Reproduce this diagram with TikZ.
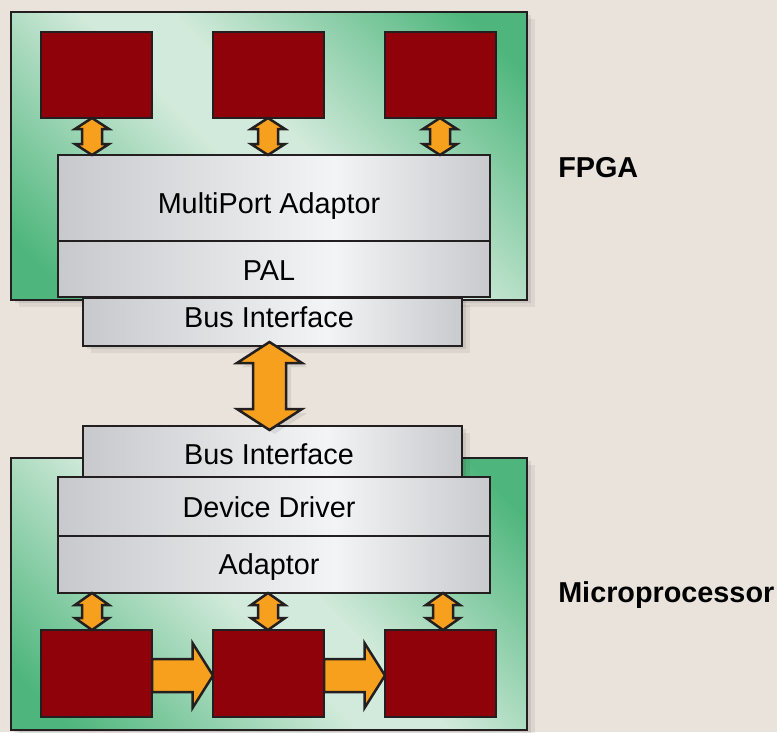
\documentclass[tikz,border=0pt]{standalone}
\usepackage{fontspec}
\setmainfont{Liberation Sans}
\usetikzlibrary{calc,shadows}
\definecolor{bgc}{RGB}{233,227,219}
\definecolor{outl}{RGB}{35,31,32}
\definecolor{redc}{RGB}{144,2,9}
\definecolor{orc}{RGB}{247,160,30}
\definecolor{grdark}{RGB}{78,182,124}
\definecolor{grlight}{RGB}{210,234,219}
\definecolor{gedge}{RGB}{200,201,205}
\definecolor{glight}{RGB}{243,244,245}
\definecolor{gedgeb}{RGB}{201,202,206}
\pgfdeclarehorizontalshading{greyband}{100bp}{color(0bp)=(gedge); color(25bp)=(gedge); color(57bp)=(glight); color(75bp)=(gedgeb); color(100bp)=(gedgeb)}
\pgfdeclarehorizontalshading{greenband}{100bp}{color(0bp)=(grdark); color(20bp)=(grdark); color(46bp)=(grlight); color(54bp)=(grlight); color(80bp)=(grdark); color(100bp)=(grdark)}
\newcommand{\vdarr}[5]{%
  \draw[blk] (#1) -- ($(#1)+(#4,#5)$) -- ($(#1)+(#3,#5)$) -- ($(#2)+(#3,-#5)$) -- ($(#2)+(#4,-#5)$) -- (#2) -- ($(#2)+(-#4,-#5)$) -- ($(#2)+(-#3,-#5)$) -- ($(#1)+(-#3,#5)$) -- ($(#1)+(-#4,#5)$) -- cycle;}
\newcommand{\harr}[2]{%
  \draw[blk] ($(#1.east)+(0,-14.5)$) -- ($(#2.west)+(-20.5,-14.5)$) -- ($(#2.west)+(-20.5,-30.5)$) -- ($(#2.west)+(0,2)$) -- ($(#2.west)+(-20.5,34.5)$) -- ($(#2.west)+(-20.5,18.5)$) -- ($(#1.east)+(0,18.5)$) -- cycle;}
\begin{document}
\begin{tikzpicture}[x=1pt,y=-1pt,
  line width=2.5pt,
  shd/.style={general shadow={fill=black,opacity=0.06,shadow xshift=8pt,shadow yshift=-7pt},
              general shadow={fill=black,opacity=0.08,shadow xshift=4pt,shadow yshift=-3pt}},
  boxbase/.style={draw=outl,rectangle,inner sep=0pt,outer sep=0pt,anchor=north west},
  greenbox/.style={boxbase,shading=greenband,shading angle=45},
  greybox/.style={boxbase,shading=greyband,shading angle=0},
  redbox/.style={boxbase,fill=redc,minimum width=111pt,minimum height=86pt},
  blk/.style={draw=outl,fill=orc,line join=miter},
  txt/.style={anchor=base,inner sep=0pt,font=\fontsize{28.8}{34}\selectfont,text=black},
  lbl/.style={anchor=base west,inner sep=0pt,font=\fontsize{28.8}{34}\selectfont\bfseries,text=black}]
\useasboundingbox (0,0) rectangle (777,732);
\fill[bgc] (0,0) rectangle (777,732);
% FPGA
\node[greenbox,shd,minimum width=516pt,minimum height=288pt] (fpga) at (11,12) {};
\node[redbox] (r1) at (41,32) {};
\node[redbox] (r2) at (213,32) {};
\node[redbox] (r3) at (385,32) {};
\node[greybox,minimum width=432pt,minimum height=86pt] (mpa) at (58,155) {};
\node[greybox,minimum width=432pt,minimum height=56pt] (pal) at (58,241) {};
\node[greybox,shd,minimum width=379pt,minimum height=48pt] (busa) at (83,298) {};
\node[txt] (tmpa) at (269,213) {MultiPort Adaptor};
\node[txt] (tpal) at (269,280) {PAL};
\node[txt] (tbusa) at (269,327) {Bus Interface};
\node[lbl] (lfpga) at (557,177) {FPGA};
\coordinate (xa) at (92,0);
\coordinate (xb) at (268,0);
\coordinate (xc) at (440,0);
\vdarr{r1.south -| xa}{mpa.north -| xa}{10}{17}{11}
\vdarr{r2.south -| xb}{mpa.north -| xb}{10}{17}{11}
\vdarr{r3.south -| xc}{mpa.north -| xc}{10}{17}{11}
% Microprocessor
\node[greenbox,shd,minimum width=516pt,minimum height=272pt] (mp) at (11,458) {};
\node[greybox,shd,minimum width=379pt,minimum height=51pt] (busb) at (83,426) {};
\node[greybox,minimum width=432pt,minimum height=59pt] (dd) at (58,477) {};
\node[greybox,minimum width=432pt,minimum height=57pt] (ad) at (58,536) {};
\node[txt] (tbusb) at (269,464) {Bus Interface};
\node[txt] (tdd) at (269,517) {Device Driver};
\node[txt] (tad) at (269,574) {Adaptor};
\node[lbl] (lmp) at (557,602) {Microprocessor};
\coordinate (xd) at (92,0);
\coordinate (xe) at (268,0);
\coordinate (xf) at (443,0);
\node[boxbase,minimum width=111pt,minimum height=87pt,draw=none] (b1) at (41,630) {};
\node[boxbase,minimum width=111pt,minimum height=87pt,draw=none] (b2) at (213,630) {};
\node[boxbase,minimum width=111pt,minimum height=87pt,draw=none] (b3) at (385,630) {};
\harr{b1}{b2}
\harr{b2}{b3}
\node[redbox,minimum height=87pt] at (b1.north west) {};
\node[redbox,minimum height=87pt] at (b2.north west) {};
\node[redbox,minimum height=87pt] at (b3.north west) {};
\vdarr{ad.south -| xd}{b1.north -| xd}{10}{17}{12}
\vdarr{ad.south -| xe}{b2.north -| xe}{10}{17}{12}
\vdarr{ad.south -| xf}{b3.north -| xf}{10}{17}{12}
% big arrow
\coordinate (xg) at (269.5,0);
\coordinate (bigt) at ($(busa.south -| xg)+(0,-4)$);
\coordinate (bigb) at ($(busb.north -| xg)+(0,4)$);
\begin{scope}[blk/.append style={general shadow={fill=black,opacity=0.08,shadow xshift=5pt,shadow yshift=-4pt}}]
\vdarr{bigt}{bigb}{16.5}{32.5}{21}
\end{scope}
\end{tikzpicture}
\end{document}
